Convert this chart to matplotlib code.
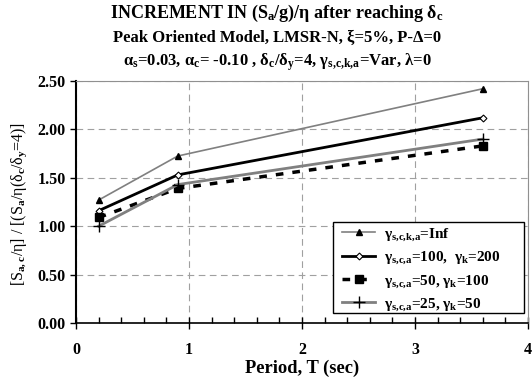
import matplotlib
matplotlib.use("Agg")
import matplotlib.pyplot as plt
from matplotlib.patches import Rectangle
from matplotlib.ticker import MultipleLocator, FormatStrFormatter

plt.rcParams['font.family'] = ['Liberation Serif', 'DejaVu Serif']
plt.rcParams['font.weight'] = 'bold'
plt.rcParams['mathtext.fontset'] = 'custom'
plt.rcParams['mathtext.rm'] = 'Liberation Serif:bold'
plt.rcParams['mathtext.it'] = 'Liberation Serif:bold'
plt.rcParams['mathtext.bf'] = 'Liberation Serif:bold'
plt.rcParams['mathtext.sf'] = 'Liberation Serif'

# Periods (sec)
periods = [0.2, 0.9, 3.6]

# Normalised spectral acceleration increments
inf_vals = [1.27, 1.725, 2.42]
g100_vals = [1.16, 1.53, 2.12]
g50_vals = [1.09, 1.39, 1.83]
g25_vals = [1.00, 1.43, 1.90]

labels = [
    r"$\gamma_{s{,}c{,}k{,}a}$=Inf",
    r"$\gamma_{s{,}c{,}a}$=100,  $\gamma_k$=200",
    r"$\gamma_{s{,}c{,}a}$=50, $\gamma_k$=100",
    r"$\gamma_{s{,}c{,}a}$=25, $\gamma_k$=50",
]

fig = plt.figure(figsize=(5.32, 3.85), dpi=100)
ax = fig.add_axes([0.1429, 0.161, 0.8496, 0.6286])

ax.plot(periods, inf_vals, color='#808080', lw=1.2, marker='^', ms=5,
        mfc='black', mec='black', label=labels[0], zorder=3)
ax.plot(periods, g100_vals, color='black', lw=2.0, marker='D', ms=3.5,
        mfc='white', mec='black', mew=0.8, label=labels[1], zorder=3)
ax.plot(periods, g50_vals, color='black', lw=2.5, ls=(0, (2.2, 2.6)), marker='s', ms=6,
        mfc='black', mec='black', label=labels[2], zorder=3)
ax.plot(periods, g25_vals, color='#808080', lw=2.0, marker='+', ms=8,
        mfc='black', mec='black', mew=1.0, label=labels[3], zorder=3)

ax.set_xlim(0, 4)
ax.set_ylim(0, 2.5)
ax.xaxis.set_major_locator(MultipleLocator(1))
ax.xaxis.set_minor_locator(MultipleLocator(0.2))
ax.yaxis.set_major_locator(MultipleLocator(0.5))
ax.yaxis.set_major_formatter(FormatStrFormatter('%.2f'))

ax.grid(True, which='major', color='#a0a0a0', ls=(0, (6, 4)), lw=0.8)
ax.set_axisbelow(True)

for side in ('top', 'right'):
    ax.spines[side].set_color('#909090')
    ax.spines[side].set_linewidth(0.8)
ax.spines['left'].set_linewidth(1.5)
ax.spines['bottom'].set_linewidth(1.2)

ax.tick_params(axis='x', which='major', direction='inout', length=8, width=1, labelsize=11.5, pad=10)
ax.tick_params(axis='x', which='minor', direction='in', length=4, width=1)
ax.tick_params(axis='y', which='major', direction='out', length=4, width=1, labelsize=11.5)
for lab in ax.get_xticklabels() + ax.get_yticklabels():
    lab.set_fontweight('bold')

ax.set_xlabel("Period, T (sec)", fontsize=13.3, fontweight='bold', labelpad=1)
ax.set_ylabel(r"[S$_{\mathsf{a,c}}$/η] / [(S$_{\mathsf{a}}$/η(δ$_{\mathsf{c}}$/δ$_{\mathsf{y}}$=4)]",
              fontsize=11.5, fontweight='normal', va='center', ha='center')
ax.yaxis.set_label_coords(-0.126, 0.49)

title_x = 0.521
fig.text(title_x, 0.966, r"INCREMENT IN (S$_a$/g)/η after reaching δ$_c$",
         ha='center', va='center', fontsize=13, fontweight='bold')
fig.text(title_x, 0.901, "Peak Oriented Model, LMSR-N, ξ=5%, P-Δ=0",
         ha='center', va='center', fontsize=12, fontweight='bold')
fig.text(title_x, 0.838,
         r"α$_s$=0.03, α$_c$= -0.10 , δ$_c$/δ$_y$=4, γ$_{s{,}c{,}k{,}a}$=Var, λ=0",
         ha='center', va='center', fontsize=12, fontweight='bold')

# legend box drawn as its own patch so it can be wider than the entries
box = Rectangle((0.569, 0.041), 0.422, 0.376, transform=ax.transAxes,
                facecolor='white', edgecolor='black', lw=1.0, zorder=4)
ax.add_patch(box)
leg = ax.legend(loc='upper left', bbox_to_anchor=(0.588, 0.398), fontsize=11,
                frameon=False, numpoints=1, handlelength=2.2, borderpad=0.0,
                labelspacing=0.45, handletextpad=0.55, borderaxespad=0.0)
leg.set_zorder(5)
for t in leg.get_texts():
    t.set_fontweight('bold')

fig.savefig("out.png", dpi=100)
